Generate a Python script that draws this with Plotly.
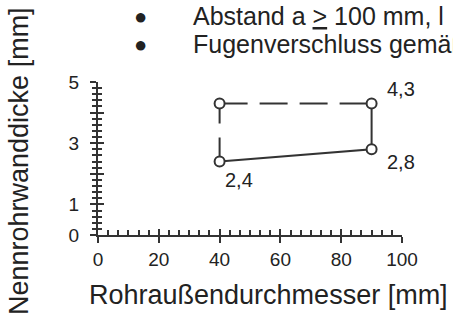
import plotly.graph_objects as go

# data
diameter = [40, 90, 90, 40]          # Rohraußendurchmesser [mm]
wall = [2.4, 2.8, 4.3, 4.3]          # Nennrohrwanddicke [mm]
point_labels = ["2,4", "2,8", "4,3", ""]
solid_idx = [0, 1, 2]
dash_h_idx = [3, 2]
dash_v_idx = [0, 3]
y_ticks = [0, 1, 2, 3, 4, 5]
y_ticktext = ["0", "1", "", "3", "", "5"]
header_lines = ["Abstand a <u>></u> 100 mm, l", "Fugenverschluss gemäß"]

C = "#333333"
CT = "#222222"
FONT = "Liberation Sans, Arial, sans-serif"
W, H = 453, 317
L, R, T, B = 98, 51, 82, 82
PW, PH = W - L - R, H - T - B


def px(xp):
    return (xp - L) / PW


def py(yp):
    return (H - B - yp) / PH


fig = go.Figure()
fig.add_trace(go.Scatter(x=[diameter[i] for i in solid_idx], y=[wall[i] for i in solid_idx],
                         mode="lines", line=dict(color=C, width=2), hoverinfo="skip"))
fig.add_trace(go.Scatter(x=[diameter[i] for i in dash_h_idx], y=[wall[i] for i in dash_h_idx],
                         mode="lines", line=dict(color=C, width=2, dash="28px,12px"), hoverinfo="skip"))
fig.add_trace(go.Scatter(x=[diameter[i] for i in dash_v_idx], y=[wall[i] for i in dash_v_idx],
                         mode="lines", line=dict(color=C, width=2, dash="24px,14px"), hoverinfo="skip"))
fig.add_trace(go.Scatter(x=diameter, y=wall, mode="markers",
                         marker=dict(symbol="circle", size=10, color="white",
                                     line=dict(color=C, width=2))))

shifts = [(19, -18), (29, -13), (29, 14), (0, 0)]
for xv, yv, lab, (dx, dy) in zip(diameter, wall, point_labels, shifts):
    if lab:
        fig.add_annotation(x=xv, y=yv, xref="x", yref="y", text=lab, showarrow=False,
                           xshift=dx, yshift=dy, font=dict(family=FONT, size=20, color=CT))

for i, line in enumerate(header_lines):
    yy = 16 + i * 28
    fig.add_annotation(x=px(140), y=py(yy), xref="paper", yref="paper", text="●",
                       showarrow=False, xanchor="center", yanchor="middle",
                       font=dict(family=FONT, size=22, color=CT))
    fig.add_annotation(x=px(191), y=py(yy), xref="paper", yref="paper", text=line,
                       showarrow=False, xanchor="left", yanchor="middle",
                       font=dict(family=FONT, size=25, color=CT))

fig.add_annotation(x=px(268), y=py(295), xref="paper", yref="paper",
                   text="Rohraußendurchmesser [mm]", showarrow=False,
                   xanchor="center", yanchor="middle",
                   font=dict(family=FONT, size=27, color=CT))
fig.add_annotation(x=px(19), y=py(161), xref="paper", yref="paper",
                   text="Nennrohrwanddicke [mm]", showarrow=False, textangle=-90,
                   xanchor="center", yanchor="middle",
                   font=dict(family=FONT, size=27, color=CT))

common = dict(showgrid=False, zeroline=False, color=C, tickcolor=C, tickwidth=2, automargin=False)
fig.update_layout(
    width=W, height=H, margin=dict(l=L, r=R, t=T, b=B),
    paper_bgcolor="white", plot_bgcolor="white", showlegend=False,
    font=dict(family=FONT, color=CT),
    xaxis=dict(range=[0, 100], tickmode="linear", tick0=0, dtick=20, ticks="outside", ticklen=6,
               showline=True, linecolor=C, linewidth=2,
               tickfont=dict(family=FONT, size=19, color=CT), **common),
    xaxis2=dict(range=[0, 100], overlaying="x", side="bottom", anchor="y", tickmode="linear",
                tick0=0, dtick=20, ticks="inside", ticklen=6, showticklabels=False,
                minor=dict(ticks="inside", tick0=0, dtick=20 / 6, ticklen=5, tickwidth=2, tickcolor=C),
                **common),
    yaxis=dict(range=[0, 5], tickmode="array", tickvals=y_ticks, ticktext=y_ticktext,
               ticks="outside", ticklen=6, showline=True, linecolor=C, linewidth=2,
               ticklabelstandoff=7,
               minor=dict(ticks="outside", tick0=0, dtick=0.2, ticklen=4, tickwidth=2, tickcolor=C),
               tickfont=dict(family=FONT, size=19, color=CT), **common),
    yaxis2=dict(range=[0, 5], overlaying="y", side="left", anchor="x", tickmode="array",
                tickvals=y_ticks, ticks="inside", ticklen=6, showticklabels=False,
                minor=dict(ticks="inside", tick0=0, dtick=0.2, ticklen=4, tickwidth=2, tickcolor=C),
                **common),
)
# invisible trace to activate secondary axes
fig.add_trace(go.Scatter(x=[diameter[0]], y=[wall[0]], xaxis="x2", yaxis="y2", mode="markers",
                         marker=dict(opacity=0), hoverinfo="skip"))

fig.write_html("out.html", config={"displayModeBar": False},
               post_script="document.body.style.margin='0';document.body.style.overflow='hidden';")
